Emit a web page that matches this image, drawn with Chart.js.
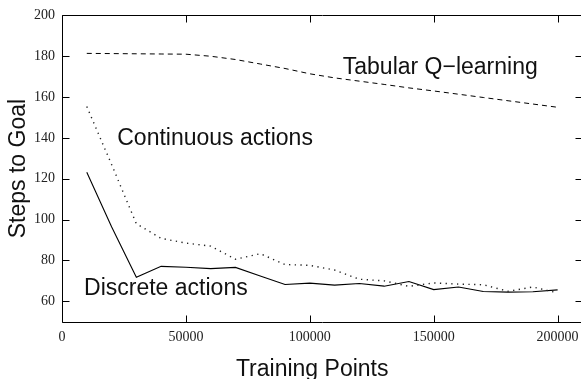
<!DOCTYPE html>
<html>
<head>
<meta charset="utf-8">
<script src="https://cdn.jsdelivr.net/npm/chart.js@4"></script>
<style>
  html, body { margin: 0; padding: 0; overflow: hidden; background: #fff; }
  #wrap { position: relative; width: 600px; height: 379px; }
</style>
</head>
<body>
<div id="wrap"><canvas id="c"></canvas></div>
<script>
// ---- data ----
const trainingPoints = [10000, 20000, 30000, 40000, 50000, 60000, 70000, 80000, 90000, 100000,
  110000, 120000, 130000, 140000, 150000, 160000, 170000, 180000, 190000, 200000];
const tabularQ = [181.4, 181.3, 181.2, 181.1, 181.0, 180.0, 178.4, 176.2, 174.0, 171.4,
  169.4, 167.8, 166.2, 164.5, 163.0, 161.4, 159.8, 158.2, 156.6, 155.0];
const continuousActions = [155.4, 127.0, 98.0, 90.8, 88.5, 87.0, 80.6, 83.3, 78.0, 77.6,
  75.3, 70.8, 70.0, 67.3, 69.0, 68.4, 68.1, 64.9, 67.0, 64.1];
const discreteActions = [123.2, 96.5, 71.8, 77.1, 76.7, 76.0, 76.6, 72.4, 68.2, 68.9,
  67.9, 68.7, 67.4, 69.7, 65.7, 67.0, 64.8, 64.5, 64.7, 65.6];
const xTickValues = [0, 50000, 100000, 150000, 200000];
const yTickValues = [60, 80, 100, 120, 140, 160, 180, 200];
const seriesNames = ['Tabular Q−learning', 'Continuous actions', 'Discrete actions'];
const labelAnchorX = [113300, 22300, 8900];
const labelAnchorY = [171.3, 136.7, 62.9];
const xTitle = 'Training Points';
const yTitle = 'Steps to Goal';

const toPoints = vals => trainingPoints.map((x, i) => ({ x: x, y: vals[i] }));
const sansFont = "23px 'Liberation Sans', Arial, sans-serif";

const framePlugin = {
  id: 'frame',
  afterDatasetsDraw(chart) {
    const { ctx, chartArea: a, scales } = chart;
    const L = Math.round(a.left) + 0.5, R = Math.round(a.right) + 0.5;
    const T = Math.round(a.top) + 0.5, B = Math.round(a.bottom) + 0.5;
    const tl = 7;
    ctx.save();
    ctx.strokeStyle = '#000';
    ctx.lineWidth = 1;
    ctx.beginPath();
    ctx.rect(L, T, R - L, B - T);
    scales.x.ticks.forEach(t => {
      const px = Math.round(scales.x.getPixelForValue(t.value)) + 0.5;
      ctx.moveTo(px, B); ctx.lineTo(px, B - tl);
      ctx.moveTo(px, T); ctx.lineTo(px, T + tl);
    });
    scales.y.ticks.forEach(t => {
      const py = Math.round(scales.y.getPixelForValue(t.value)) + 0.5;
      ctx.moveTo(L, py); ctx.lineTo(L + tl, py);
      ctx.moveTo(R, py); ctx.lineTo(R - tl, py);
    });
    ctx.stroke();
    ctx.fillStyle = '#111';
    ctx.font = sansFont;
    // series labels
    ctx.textAlign = 'left';
    ctx.textBaseline = 'alphabetic';
    seriesNames.forEach((name, i) => {
      ctx.fillText(name, scales.x.getPixelForValue(labelAnchorX[i]), scales.y.getPixelForValue(labelAnchorY[i]));
    });
    // x axis title (the source figure centres it slightly left of the plot centre)
    ctx.textAlign = 'center';
    ctx.textBaseline = 'middle';
    ctx.fillText(xTitle, (a.left + a.right) / 2 - 10, 369.5);
    ctx.restore();
  }
};

new Chart(document.getElementById('c'), {
  type: 'line',
  data: {
    datasets: [
      { label: seriesNames[0], data: toPoints(tabularQ), borderColor: '#000', borderWidth: 1,
        borderDash: [5, 4], pointRadius: 0, tension: 0, fill: false },
      { label: seriesNames[1], data: toPoints(continuousActions), borderColor: '#222', borderWidth: 1.4,
        borderDash: [1.3, 4.4], pointRadius: 0, tension: 0, fill: false },
      { label: seriesNames[2], data: toPoints(discreteActions), borderColor: '#000', borderWidth: 1.1,
        pointRadius: 0, tension: 0, fill: false }
    ]
  },
  options: {
    responsive: true,
    maintainAspectRatio: false,
    animation: false,
    events: [],
    layout: { padding: { left: 0, top: 11.5, right: 17.6, bottom: 0 } },
    plugins: { legend: { display: false }, tooltip: { enabled: false } },
    scales: {
      x: {
        type: 'linear', min: 0, max: 210000,
        afterBuildTicks: s => { s.ticks = xTickValues.map(v => ({ value: v })); },
        afterFit: s => { s.height = 57.3; },
        grid: { display: false, drawTicks: false },
        border: { display: false },
        ticks: { color: '#222', padding: 7, maxRotation: 0, autoSkip: false,
          font: { family: "'Liberation Serif', 'Times New Roman', serif", size: 14 },
          callback: v => String(v) },
        title: { display: false }
      },
      y: {
        type: 'linear', min: 50, max: 200,
        afterBuildTicks: s => { s.ticks = yTickValues.map(v => ({ value: v })); },
        afterFit: s => { s.width = 62; },
        grid: { display: false, drawTicks: false },
        border: { display: false },
        ticks: { color: '#222', padding: 7, autoSkip: false,
          font: { family: "'Liberation Serif', 'Times New Roman', serif", size: 14 },
          callback: v => String(v) },
        title: { display: true, text: yTitle, color: '#111',
          font: { family: "'Liberation Sans', Arial, sans-serif", size: 23, lineHeight: 1 },
          padding: { top: 7.5, bottom: 0 } }
      }
    }
  },
  plugins: [framePlugin]
});
</script>
</body>
</html>
